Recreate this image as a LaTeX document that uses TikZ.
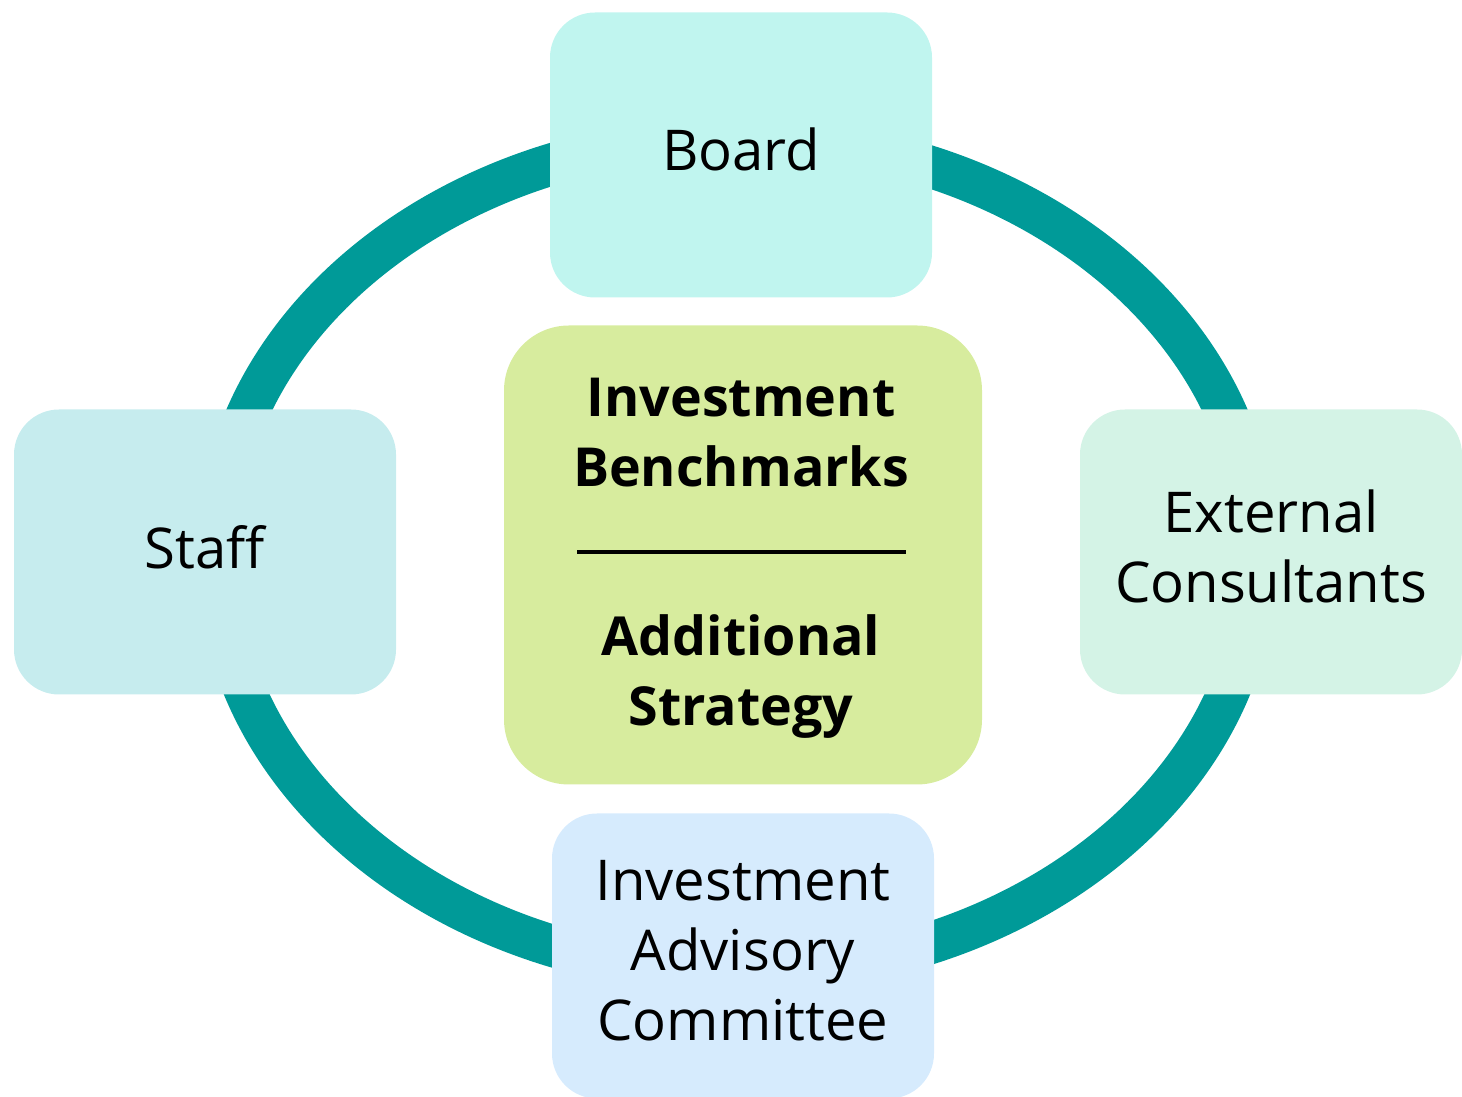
\documentclass[tikz,border=0pt]{standalone}
\usepackage{fontspec}
\setmainfont{Open Sans}
\definecolor{ringteal}{HTML}{009A98}
\definecolor{boardfill}{HTML}{C0F5EF}
\definecolor{stafffill}{HTML}{C6ECEE}
\definecolor{consultfill}{HTML}{D4F3E6}
\definecolor{committeefill}{HTML}{D6EBFD}
\definecolor{centerfill}{HTML}{D7EC9E}

\begin{document}
\begin{tikzpicture}[x=0.1mm, y=-0.1mm, font=\fontsize{16}{19.9}\selectfont]
	\useasboundingbox (0,0) rectangle (1462,1097);
      \tikzstyle{party} = [rounded corners=4.5mm, minimum width=38.2mm, minimum height=28.5mm, align=center, inner sep=0pt, text depth=1.1mm]
      \tikzstyle{word} = [align=center, font=\fontsize{15.3}{19.9}\selectfont\bfseries]
      \draw[color=ringteal, line width=4.2mm] (737,555) ellipse [x radius=52mm, y radius=41.8mm];
      \node (board) at (741,155) [party, fill=boardfill] {Board};
      \node (staff) at (205,552) [party, fill=stafffill] {Staff};
      \node (externalconsultants) at (1271,552) [party, fill=consultfill] {External\\Consultants};
      \node (advisorycommittee) at (743,956) [party, fill=committeefill] {Investment\\Advisory\\Committee};
      \node (benchmarksstrategy) at (743,555) [fill=centerfill, rounded corners=6.5mm, minimum width=47.8mm, minimum height=45.9mm] {};
      \node (investmentbenchmarks) at (741,433) [word] {Investment\\Benchmarks};
      \node (additionalstrategy) at (741,677) [word] {Additional\\Strategy};
      \draw[line width=0.4mm] (577,552) -- (906,552);
    \end{tikzpicture}
\end{document}
